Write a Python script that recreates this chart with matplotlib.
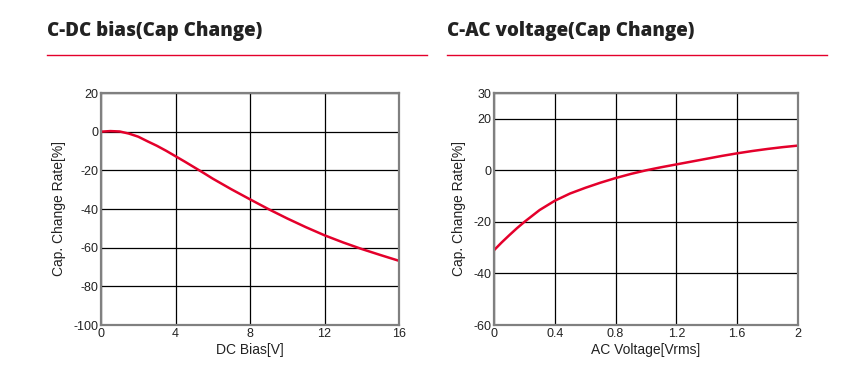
import matplotlib.pyplot as plt

plt.rcParams['axes.unicode_minus'] = False

# --- data ---
dc_bias = [0, 0.5, 1, 1.5, 2, 2.5, 3, 3.5, 4, 4.5, 5, 5.5, 6, 7, 8, 9, 10, 11, 12, 13, 14, 15, 16]
dc_change = [0, 0.3, 0.1, -1.0, -2.6, -5.0, -7.3, -9.9, -12.7, -15.5, -18.4, -21.3, -24.3,
             -29.8, -35.0, -40.1, -44.9, -49.4, -53.6, -57.3, -60.7, -63.8, -66.8]

ac_volt = [0, 0.05, 0.1, 0.15, 0.2, 0.3, 0.4, 0.5, 0.6, 0.7, 0.8, 0.9, 1.0,
           1.1, 1.2, 1.3, 1.4, 1.5, 1.6, 1.7, 1.8, 1.9, 2.0]
ac_change = [-31.0, -28.0, -25.2, -22.5, -20.0, -15.4, -11.8, -9.0, -6.8, -4.8, -3.0, -1.4, 0.0,
             1.2, 2.3, 3.4, 4.5, 5.6, 6.6, 7.5, 8.3, 9.0, 9.6]

dc_xticks = [0, 4, 8, 12, 16]
dc_yticks = [20, 0, -20, -40, -60, -80, -100]
ac_xticks = [0, 0.4, 0.8, 1.2, 1.6, 2]
ac_xlabels = ['0', '0.4', '0.8', '1.2', '1.6', '2']
ac_yticks = [30, 20, 0, -20, -40, -60]

W, H = 852, 378
fig = plt.figure(figsize=(W / 100, H / 100), dpi=100)

def px(x0, y0, x1, y1):
    return [x0 / W, 1 - y1 / H, (x1 - x0) / W, (y1 - y0) / H]

RED = '#e4002b'
TXT = '#222222'

def style(ax):
    for s in ax.spines.values():
        s.set_color('#808080')
        s.set_linewidth(1.6)
    ax.grid(True, color='black', linewidth=0.9)
    ax.set_axisbelow(True)
    ax.tick_params(length=0, pad=2, labelsize=9, labelcolor=TXT)
    for lab in ax.get_xticklabels() + ax.get_yticklabels():
        lab.set_fontfamily('Liberation Sans')

# left chart
ax1 = fig.add_axes(px(101, 93, 399, 325))
ax1.plot(dc_bias, dc_change, color=RED, linewidth=1.8)
ax1.set_xlim(0, 16)
ax1.set_ylim(-100, 20)
ax1.set_xticks(dc_xticks)
ax1.set_yticks(dc_yticks)
ax1.set_xlabel('DC Bias[V]', fontfamily='Liberation Sans', fontsize=10, color=TXT, labelpad=2)
ax1.set_ylabel('Cap. Change Rate[%]', fontfamily='Liberation Sans', fontsize=10, color=TXT, labelpad=5)
style(ax1)

# right chart
ax2 = fig.add_axes(px(494, 93, 798, 325))
ax2.plot(ac_volt, ac_change, color=RED, linewidth=1.8)
ax2.set_xlim(0, 2)
ax2.set_ylim(-60, 30)
ax2.set_xticks(ac_xticks)
ax2.set_xticklabels(ac_xlabels)
ax2.set_yticks(ac_yticks)
ax2.set_xlabel('AC Voltage[Vrms]', fontfamily='Liberation Sans', fontsize=10, color=TXT, labelpad=2)
ax2.set_ylabel('Cap. Change Rate[%]', fontfamily='Liberation Sans', fontsize=10, color=TXT, labelpad=5)
style(ax2)

# section titles with red underline
for x0, x1, title in [(47, 427, 'C-DC bias(Cap Change)'), (447, 827, 'C-AC voltage(Cap Change)')]:
    fig.text(x0 / W, 1 - 31 / H, title, fontsize=13.5, fontweight='heavy',
             fontfamily='Open Sans', color=TXT, va='center', ha='left')
    fig.add_artist(plt.Line2D([x0 / W, x1 / W], [1 - 55 / H, 1 - 55 / H],
                              color=RED, linewidth=1.0, transform=fig.transFigure))

fig.savefig('out.png', dpi=100)
